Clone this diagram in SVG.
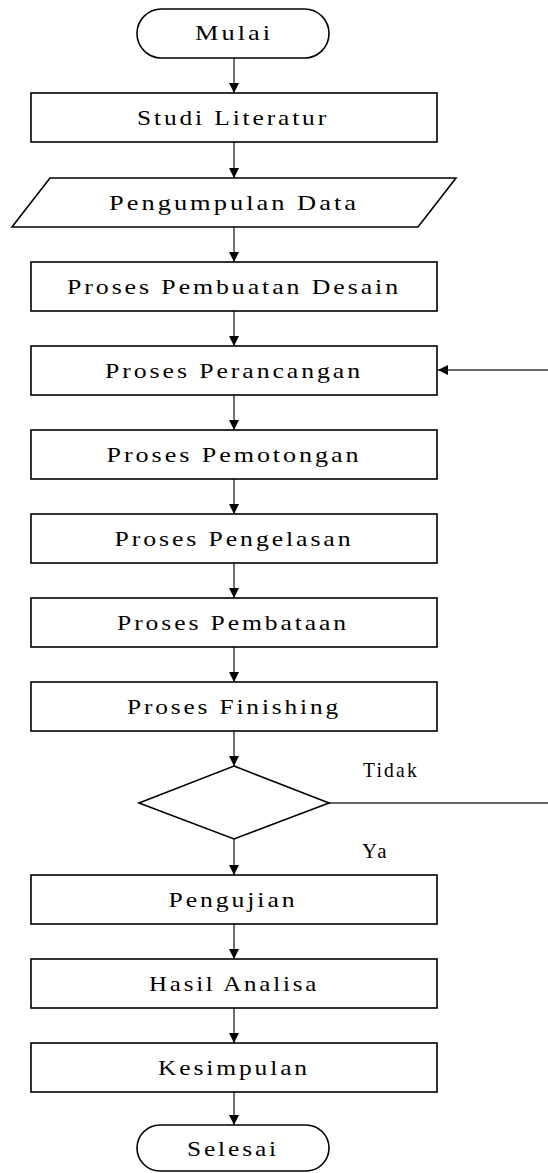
<svg xmlns="http://www.w3.org/2000/svg" width="548" height="1173" viewBox="0 0 548 1173">
<style>
.s{fill:#fff;stroke:#000;stroke-width:1.6}
.t,.l{font-family:"Liberation Serif","Times New Roman","DejaVu Serif",serif;font-size:22px;letter-spacing:2.5px;fill:#000}
.t{text-anchor:middle}
.c{fill:none;stroke:#333;stroke-width:1.4}
</style>
<defs>
<marker id="ah" viewBox="0 0 10 10" refX="10" refY="5" markerWidth="10" markerHeight="10" markerUnits="userSpaceOnUse" orient="auto">
<path d="M0,0 L10,5 L0,10 Z" fill="#000"/>
</marker>
</defs>
<rect width="548" height="1173" fill="#fff"/>
<g id="connectors">
<line class="c" x1="234" y1="58" x2="234" y2="93" marker-end="url(#ah)"/>
<line class="c" x1="234" y1="142" x2="234" y2="178" marker-end="url(#ah)"/>
<line class="c" x1="234" y1="227" x2="234" y2="262" marker-end="url(#ah)"/>
<line class="c" x1="234" y1="311" x2="234" y2="346" marker-end="url(#ah)"/>
<line class="c" x1="234" y1="395" x2="234" y2="430" marker-end="url(#ah)"/>
<line class="c" x1="234" y1="479" x2="234" y2="514" marker-end="url(#ah)"/>
<line class="c" x1="234" y1="563" x2="234" y2="598" marker-end="url(#ah)"/>
<line class="c" x1="234" y1="647" x2="234" y2="682" marker-end="url(#ah)"/>
<line class="c" x1="234" y1="731" x2="234" y2="766" marker-end="url(#ah)"/>
<line class="c" x1="234" y1="839" x2="234" y2="875" marker-end="url(#ah)"/>
<line class="c" x1="234" y1="924" x2="234" y2="959" marker-end="url(#ah)"/>
<line class="c" x1="234" y1="1008" x2="234" y2="1043" marker-end="url(#ah)"/>
<line class="c" x1="234" y1="1092" x2="234" y2="1125" marker-end="url(#ah)"/>
<line class="c" x1="548" y1="370" x2="438" y2="370" marker-end="url(#ah)"/>
<line class="c" x1="329" y1="803" x2="548" y2="803"/>
<text class="l" x="363" y="777" textLength="56" lengthAdjust="spacingAndGlyphs">Tidak</text>
<text class="l" x="362" y="858" textLength="27" lengthAdjust="spacingAndGlyphs">Ya</text>
</g>
<g id="mulai">
<rect class="s" x="137" y="9" width="192" height="49" rx="24.5"/>
<text class="t" x="234" y="40" textLength="78" lengthAdjust="spacingAndGlyphs">Mulai</text>
</g>
<g id="studi">
<rect class="s" x="31" y="93" width="406" height="49"/>
<text class="t" x="233" y="125" textLength="192" lengthAdjust="spacingAndGlyphs">Studi Literatur</text>
</g>
<g id="data">
<polygon class="s" points="50,178 456,178 418,227 12,227"/>
<text class="t" x="234" y="210" textLength="250" lengthAdjust="spacingAndGlyphs">Pengumpulan Data</text>
</g>
<g id="desain">
<rect class="s" x="31" y="262" width="406" height="49"/>
<text class="t" x="234" y="294" textLength="334" lengthAdjust="spacingAndGlyphs">Proses Pembuatan Desain</text>
</g>
<g id="perancangan">
<rect class="s" x="31" y="346" width="406" height="49"/>
<text class="t" x="234" y="378" textLength="258" lengthAdjust="spacingAndGlyphs">Proses Perancangan</text>
</g>
<g id="pemotongan">
<rect class="s" x="31" y="430" width="406" height="49"/>
<text class="t" x="234" y="462" textLength="255" lengthAdjust="spacingAndGlyphs">Proses Pemotongan</text>
</g>
<g id="pengelasan">
<rect class="s" x="31" y="514" width="406" height="49"/>
<text class="t" x="234" y="546" textLength="239" lengthAdjust="spacingAndGlyphs">Proses Pengelasan</text>
</g>
<g id="pembataan">
<rect class="s" x="31" y="598" width="406" height="49"/>
<text class="t" x="233" y="630" textLength="232" lengthAdjust="spacingAndGlyphs">Proses Pembataan</text>
</g>
<g id="finishing">
<rect class="s" x="31" y="682" width="406" height="49"/>
<text class="t" x="234" y="714" textLength="214" lengthAdjust="spacingAndGlyphs">Proses Finishing</text>
</g>
<g id="keputusan">
<polygon class="s" points="234,766 329,803 234,839 139,803"/>
</g>
<g id="pengujian">
<rect class="s" x="31" y="875" width="406" height="49"/>
<text class="t" x="233" y="907" textLength="129" lengthAdjust="spacingAndGlyphs">Pengujian</text>
</g>
<g id="hasil">
<rect class="s" x="31" y="959" width="406" height="49"/>
<text class="t" x="234" y="991" textLength="170" lengthAdjust="spacingAndGlyphs">Hasil Analisa</text>
</g>
<g id="kesimpulan">
<rect class="s" x="31" y="1043" width="406" height="49"/>
<text class="t" x="234" y="1075" textLength="152" lengthAdjust="spacingAndGlyphs">Kesimpulan</text>
</g>
<g id="selesai">
<rect class="s" x="137" y="1125" width="192" height="46" rx="23"/>
<text class="t" x="233" y="1156" textLength="92" lengthAdjust="spacingAndGlyphs">Selesai</text>
</g>
</svg>
